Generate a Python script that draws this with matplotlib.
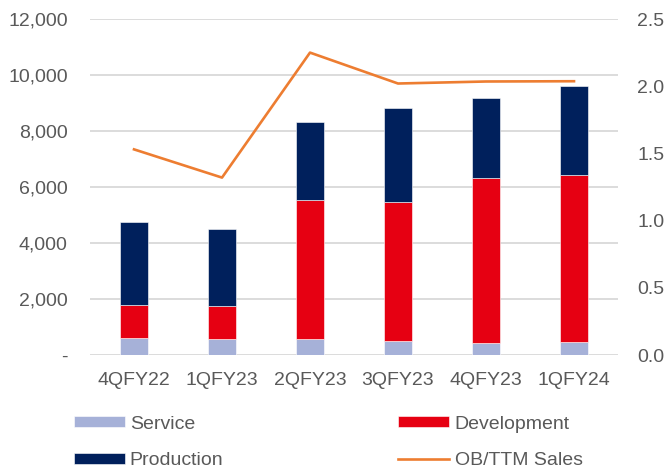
import matplotlib
matplotlib.use('Agg')
import matplotlib.pyplot as plt
from matplotlib.ticker import FuncFormatter

plt.rcParams['font.family'] = ['Liberation Sans', 'DejaVu Sans']

# 数据
quarters = ['4QFY22', '1QFY23', '2QFY23', '3QFY23', '4QFY23', '1QFY24']
service = [620, 570, 570, 500, 430, 460]
development = [1780 - 620, 1745 - 570, 5520 - 570, 5460 - 500, 6330 - 430, 6440 - 460]
production = [4735 - 1780, 4495 - 1745, 8330 - 5520, 8815 - 5460, 9175 - 6330, 9610 - 6440]
ob_ttm = [1.53, 1.32, 2.25, 2.02, 2.035, 2.037]

c_service = '#A6B1D8'
c_dev = '#E60012'
c_prod = '#00205C'
c_line = '#ED7D31'
txt = '#595959'
fs = 14

fig = plt.figure(figsize=(6.65, 4.69), dpi=100)
ax = fig.add_axes([90 / 665, 1 - 355 / 469, 528 / 665, 336 / 469])
ax2 = ax.twinx()

x = list(range(len(quarters)))
w = 0.32
b1 = ax.bar(x, service, w, color=c_service, edgecolor='white', linewidth=0.4, label='Service', zorder=3)
b2 = ax.bar(x, development, w, bottom=service, color=c_dev, edgecolor='white', linewidth=0.4,
            label='Development', zorder=3)
bottom2 = [s + d for s, d in zip(service, development)]
b3 = ax.bar(x, production, w, bottom=bottom2, color=c_prod, edgecolor='white', linewidth=0.4,
            label='Production', zorder=3)
l1, = ax2.plot(x, ob_ttm, color=c_line, linewidth=1.9, label='OB/TTM Sales')

ax.set_xlim(-0.5, 5.5)
ax.set_ylim(0, 12000)
ax.set_yticks(range(0, 12001, 2000))
ax.yaxis.set_major_formatter(FuncFormatter(lambda v, p: '-' if v == 0 else f'{int(v):,}'))
ax.grid(axis='y', color='#D9D9D9', linewidth=1.3, zorder=0)
ax.set_axisbelow(True)
ax2.set_ylim(0, 2.5)
ax2.set_yticks([0, 0.5, 1.0, 1.5, 2.0, 2.5])
ax2.yaxis.set_major_formatter(FuncFormatter(lambda v, p: f'{v:.1f}'))

for a in (ax, ax2):
    for s in a.spines.values():
        s.set_visible(False)
ax.set_xticks(x)
ax.set_xticklabels(quarters)
ax.tick_params(axis='x', length=0, pad=12, labelsize=fs, labelcolor=txt)
ax.tick_params(axis='y', length=0, pad=16, labelsize=fs, labelcolor=txt)
ax2.tick_params(axis='y', length=0, pad=14, labelsize=fs, labelcolor=txt)

leg = fig.legend([b1, b3, b2, l1], ['Service', 'Production', 'Development', 'OB/TTM Sales'],
                 ncol=2, loc='upper left', bbox_to_anchor=(56 / 665, 1 - 398 / 469),
                 frameon=False, fontsize=fs, handlelength=2.63, handleheight=0.5,
                 handletextpad=0.26, labelspacing=1.0, columnspacing=9.0, labelcolor=txt)

fig.savefig('out.png', dpi=100)
